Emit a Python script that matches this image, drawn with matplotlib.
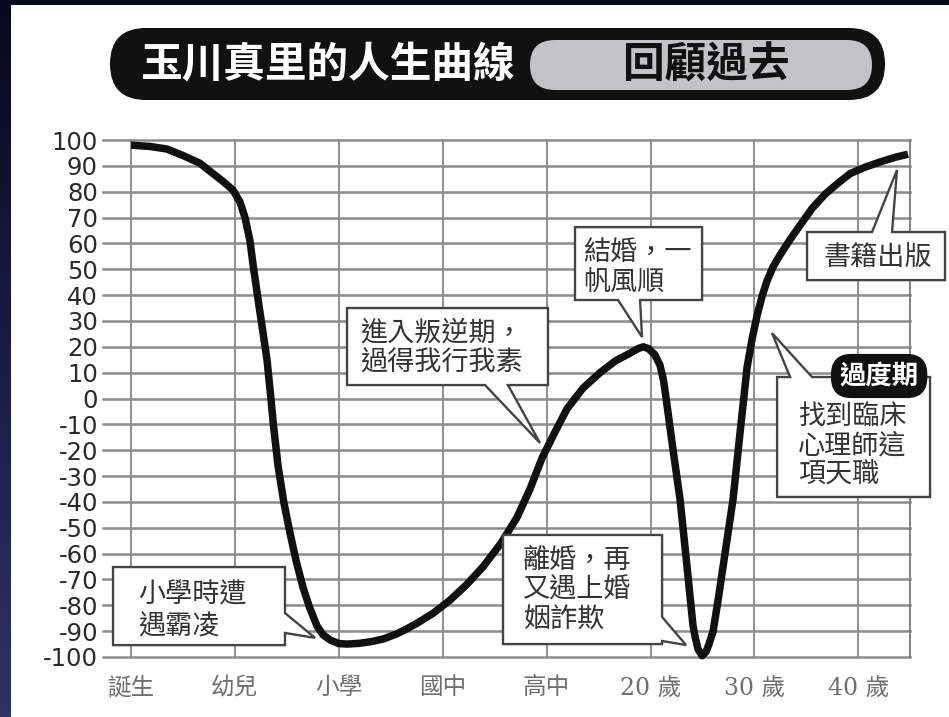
import matplotlib
matplotlib.use('Agg')
import matplotlib.pyplot as plt
import numpy as np
from matplotlib.patches import Polygon, FancyBboxPatch, Rectangle
from matplotlib.colors import LinearSegmentedColormap

plt.rcParams['axes.unicode_minus'] = False
CJK = 'Noto Sans CJK TC'

# ---------------- data ----------------
stage_labels = ['誕生', '幼兒', '小學', '國中', '高中', '20 歲', '30 歲', '40 歲']
y_ticks = list(range(-100, 101, 10))

curve_x = [0.000, 0.183, 0.346, 0.500, 0.664, 0.789, 0.885, 0.982, 1.049, 1.097,
           1.145, 1.174, 1.213, 1.261, 1.309, 1.345, 1.370, 1.415, 1.470, 1.530,
           1.590, 1.655, 1.720, 1.790, 1.850, 1.920, 2.000, 2.080, 2.200, 2.320,
           2.430, 2.560, 2.660, 2.750, 2.910, 3.070, 3.230, 3.390, 3.560, 3.715,
           3.840, 3.956, 4.080, 4.196, 4.350, 4.514, 4.660, 4.800, 4.880, 4.930,
           4.980, 5.040, 5.090, 5.125, 5.152, 5.217, 5.284, 5.351, 5.409, 5.428,
           5.457, 5.496, 5.534, 5.563, 5.602, 5.650, 5.698, 5.746, 5.794, 5.862,
           5.929, 5.977, 6.025, 6.073, 6.121, 6.180, 6.246, 6.343, 6.439, 6.554,
           6.679, 6.795, 6.920, 7.065, 7.209, 7.353, 7.478]
curve_y = [98, 97.5, 96.5, 94, 91, 87, 84, 80.6, 76, 70,
           61, 52, 41, 28, 15, 0.6, -10, -26, -40, -52,
           -63, -73, -81, -88, -91.5, -93.5, -94.8, -95, -94.7, -94,
           -93, -91, -89, -87, -83, -78, -72, -65, -56, -46,
           -35, -23, -13, -4, 4, 10, 14.5, 17.5, 19.3, 20,
           19.3, 17, 13, 7, -0.6, -20, -39, -65, -88, -92,
           -97, -99.5, -98, -95, -90, -78, -65, -52, -39, -13,
           12, 23, 32, 39.5, 45.5, 51, 55.5, 61.5, 67, 73.5,
           79, 83, 87, 89.5, 91.5, 93.3, 94.5]

title_main = '玉川真里的人生曲線'
title_sub = '回顧過去'
note_bully = ['小學時遭', '遇霸凌']
note_rebel = ['進入叛逆期，', '過得我行我素']
note_marry = ['結婚，一', '帆風順']
note_divorce = ['離婚，再', '又遇上婚', '姻詐欺']
note_book = ['書籍出版']
note_career = ['找到臨床', '心理師這', '項天職']
note_badge = '過度期'

# ---------------- figure ----------------
fig = plt.figure(figsize=(9.49, 7.17), dpi=100)
fig.patch.set_facecolor('#14163a')

bg = fig.add_axes([0, 0, 1, 1], zorder=0)
grad = np.linspace(0, 1, 256)[:, None]
cmap = LinearSegmentedColormap.from_list('bg', ['#08081c', '#1a1c46', '#2e3266'])
bg.imshow(grad, cmap=cmap, extent=[0, 949, 717, 0], aspect='auto')
bg.set_xlim(0, 949)
bg.set_ylim(717, 0)
bg.axis('off')
bg.add_patch(Rectangle((11, 5), 949 - 11, 717 - 5, facecolor='white', edgecolor='none'))

# title banner
bg.add_patch(FancyBboxPatch((110, 28), 775, 72,
                            boxstyle='round,pad=0,rounding_size=36',
                            facecolor='#111111', edgecolor='none'))
bg.add_patch(FancyBboxPatch((530, 40), 342, 50,
                            boxstyle='round,pad=0,rounding_size=25',
                            facecolor='#c3c3c7', edgecolor='none'))
bg.text(327, 65, title_main, color='white', fontsize=30, fontweight='bold',
        family=CJK, ha='center', va='center')
bg.text(706, 66, title_sub, color='#111111', fontsize=30, fontweight='bold',
        family=CJK, ha='center', va='center')

# ---------------- main axes ----------------
ax = fig.add_axes([103 / 949, 60 / 717, 807 / 949, 517 / 717], zorder=1)
ax.set_facecolor('none')
ax.set_xlim(-0.2695, 7.497)
ax.set_ylim(-100, 100)
ax.set_xticks(range(len(stage_labels)))
ax.set_xticklabels(stage_labels, family=['DejaVu Serif', CJK], fontsize=17, color='#6e6e6e')
ax.set_yticks(y_ticks)
ax.set_yticklabels([str(v) for v in y_ticks], family='DejaVu Sans', fontsize=17.5, color='#2a2a2a')
ax.tick_params(length=0)
ax.tick_params(axis='x', pad=14)
ax.tick_params(axis='y', pad=3.6)
for s in ['left', 'top', 'bottom']:
    ax.spines[s].set_visible(False)
ax.spines['right'].set_color('#7a7a7a')
ax.spines['right'].set_linewidth(1.3)
ax.grid(axis='y', color='#8c8c8c', lw=1.8)
ax.grid(axis='x', color='#7c7c7c', lw=1.2)
for gl in ax.get_ygridlines() + ax.get_xgridlines():
    gl.set_clip_on(False)

ax.plot(curve_x, curve_y, color='#111111', lw=5.4, solid_joinstyle='round',
        solid_capstyle='butt', zorder=3, clip_on=False)


def callout(box, edge, base, tip, lines, x_text, y_first, pitch, ha='left'):
    x0, x1, y0, y1 = box
    tl, tr, br, bl = (x0, y1), (x1, y1), (x1, y0), (x0, y0)
    if edge == 'top':
        verts = [tl, (base[0], y1), tip, (base[1], y1), tr, br, bl]
    elif edge == 'right':
        verts = [tl, tr, (x1, base[0]), tip, (x1, base[1]), br, bl]
    elif edge == 'bottom':
        verts = [tl, tr, br, (base[1], y0), tip, (base[0], y0), bl]
    else:
        verts = [tl, tr, br, bl]
    ax.add_patch(Polygon(verts, closed=True, facecolor='white', edgecolor='#444444',
                         lw=1.7, joinstyle='miter', clip_on=False, zorder=6))
    for i, line in enumerate(lines):
        ax.text(x_text, y_first - i * pitch, line, family=CJK, fontsize=19.5,
                color='#333333', ha=ha, va='center', zorder=7, clip_on=False)


callout((-0.173, 1.482, -95.4, -65.2), 'right', (-83.0, -90.7), (1.771, -92.6),
        note_bully, 0.067, -76.0, 12.4)
callout((2.079, 4.013, 5.2, 35.0), 'bottom', (3.407, 3.628), (3.936, -17.2),
        note_rebel, 2.204, 25.3, 11.6)
callout((4.273, 5.496, 38.1, 66.3), 'bottom', (4.687, 4.899), (4.918, 23.8),
        note_marry, 4.350, 56.3, 11.6)
callout((3.580, 5.111, -95.0, -52.8), 'right', (-84.5, -93.8), (5.342, -95.4),
        note_divorce, 3.773, -62.5, 11.6)
callout((6.506, 7.834, 45.8, 64.4), 'top', (7.132, 7.324), (7.372, 88.4),
        note_book, 7.19, 54.4, 11.6, ha='center')
callout((6.218, 7.690, -38.1, 8.3), 'top', (6.343, 6.554), (6.169, 25.3),
        note_career, 6.420, -7.2, 11.0)

ax.text(7.2, 8.7, note_badge, family=CJK, fontsize=19, fontweight='bold', color='white',
        ha='center', va='center', zorder=8, clip_on=False,
        bbox=dict(boxstyle='round,pad=0.3,rounding_size=0.75', facecolor='#111111',
                  edgecolor='#111111'))

fig.savefig('out.png', dpi=100)
